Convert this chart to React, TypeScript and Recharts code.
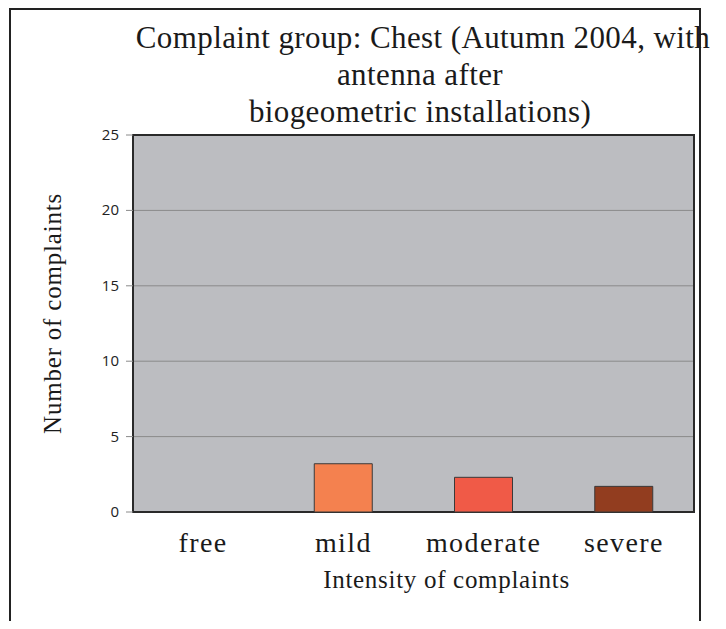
import React from "react";
import { BarChart, Bar, XAxis, YAxis, CartesianGrid, Cell, Label, ReferenceArea } from "recharts";

const categories = ["free", "mild", "moderate", "severe"];
const complaints = [0, 3.2, 2.3, 1.7];
const barColors = ["#bcbdc1", "#f4814f", "#f05a47", "#923d1f"];
const yTicks = [0, 5, 10, 15, 20, 25];
const titleLines = [
  "Complaint group: Chest (Autumn 2004, with",
  "antenna after",
  "biogeometric installations)",
];

const data = categories.map((c, i) => ({ name: c, value: complaints[i] }));

const serif = "'Liberation Serif', 'Times New Roman', serif";

const XTick = (props: any) => {
  const { x, y, payload } = props;
  return (
    <text x={x} y={y + 32} textAnchor="middle" fontFamily={serif} fontSize={28} letterSpacing={1.4} fill="#1a1a1a">
      {payload.value}
    </text>
  );
};

const YTick = (props: any) => {
  const { x, y, payload } = props;
  return (
    <text x={x - 5} y={y + 5} textAnchor="end" fontFamily="'Open Sans', 'Noto Sans', sans-serif" fontSize={15} fill="#222">
      {payload.value}
    </text>
  );
};

const XLabel = (props: any) => {
  const vb = props.viewBox || {};
  const cx = (vb.x ?? 0) + (vb.width ?? 0) / 2 + 33;
  return (
    <text x={cx} y={588} textAnchor="middle" fontFamily={serif} fontSize={25} letterSpacing={0.7} fill="#1a1a1a">
      Intensity of complaints
    </text>
  );
};

const YLabel = (props: any) => {
  const vb = props.viewBox || {};
  const cy = (vb.y ?? 0) + (vb.height ?? 0) / 2 - 10;
  const cx = 61;
  return (
    <text
      x={cx}
      y={cy}
      transform={`rotate(-90 ${cx} ${cy})`}
      textAnchor="middle"
      fontFamily={serif}
      fontSize={25}
      letterSpacing={0.8}
      fill="#1a1a1a"
    >
      Number of complaints
    </text>
  );
};

export default function App() {
  return (
    <div style={{ position: "relative", width: 726, height: 629, margin: -8, background: "#fff", overflow: "hidden" }}>
      <div
        style={{
          position: "absolute",
          left: 9,
          top: 8,
          width: 692,
          height: 640,
          borderLeft: "2px solid #222",
          borderTop: "2px solid #222",
          borderRight: "2px solid #222",
          boxSizing: "border-box",
        }}
      />
      <div style={{ position: "absolute", left: 0, top: 0 }}>
        <BarChart
          width={726}
          height={629}
          data={data}
          margin={{ top: 135, right: 32, left: 0, bottom: 0 }}
          barSize={58}
        >
          <CartesianGrid vertical={false} stroke="#8a8a8a" fill="#bcbdc1" fillOpacity={1} />
          <XAxis
            dataKey="name"
            height={117}
            axisLine={false}
            tickLine={false}
            tick={<XTick />}
            interval={0}
          >
            <Label content={<XLabel />} position="insideBottom" />
          </XAxis>
          <YAxis
            width={133}
            domain={[0, 25]}
            ticks={yTicks}
            axisLine={false}
            tickLine={{ stroke: "#8a8a8a" }}
            tickSize={7}
            tick={<YTick />}
            interval={0}
          >
            <Label content={<YLabel />} position="insideLeft" />
          </YAxis>
          <Bar dataKey="value" isAnimationActive={false} stroke="#3a3a3a" strokeWidth={1}>
            {data.map((d, i) => (
              <Cell key={d.name} fill={barColors[i]} strokeOpacity={d.value > 0 ? 1 : 0} />
            ))}
          </Bar>
          <ReferenceArea y1={0} y2={25} fill="none" stroke="#2a2a2a" strokeWidth={2} ifOverflow="visible" />
        </BarChart>
      </div>
      <svg width={726} height={130} style={{ position: "absolute", left: 0, top: 0 }}>
        {titleLines.map((t, i) => (
          <text
            key={i}
            x={i === 0 ? 423 : 420}
            y={48 + i * 37}
            textAnchor="middle"
            fontFamily={serif}
            fontSize={31}
            letterSpacing={0.4}
            fill="#1a1a1a"
          >
            {t}
          </text>
        ))}
      </svg>
    </div>
  );
}
